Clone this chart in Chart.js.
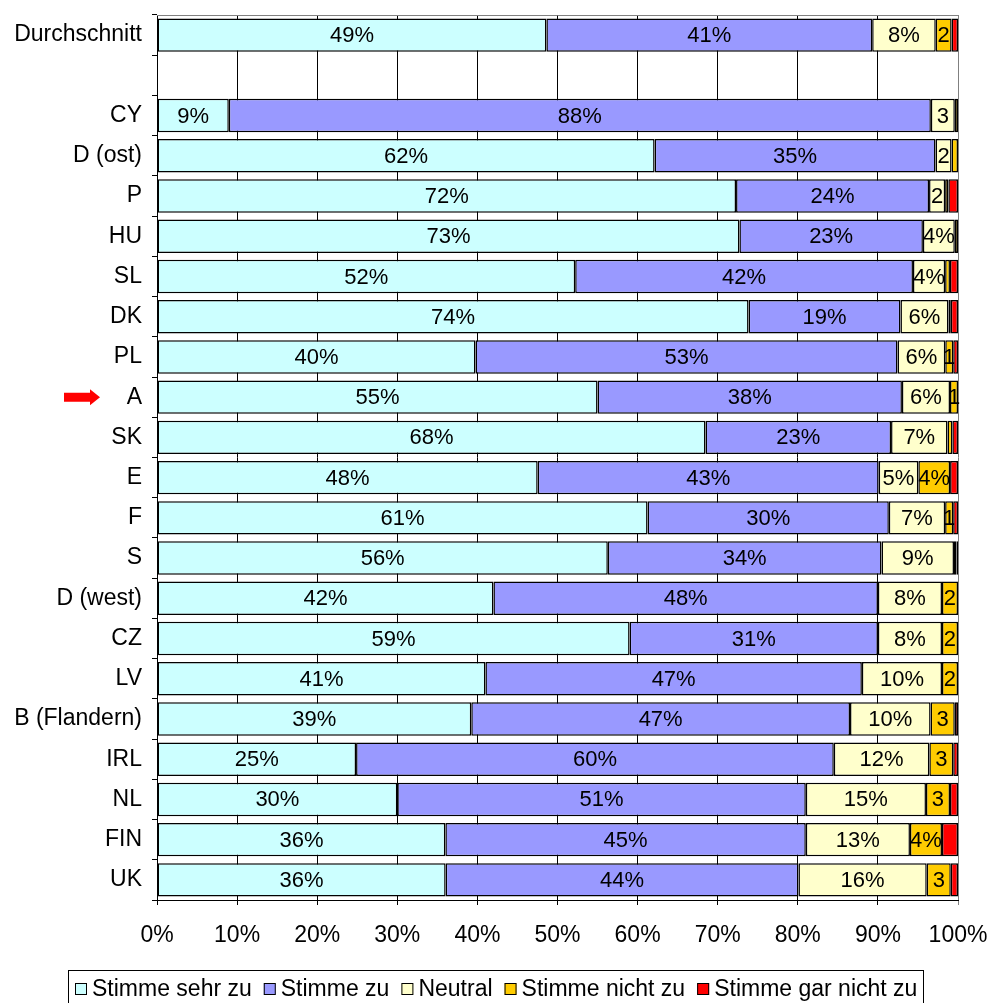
<!DOCTYPE html>
<html>
<head>
<meta charset="utf-8">
<script src="https://cdn.jsdelivr.net/npm/chart.js@4/dist/chart.umd.min.js"></script>
<style>
html, body { margin: 0; padding: 0; background: #fff; }
</style>
</head>
<body>
<canvas id="myChart" width="988" height="1003"></canvas>
<script>
var FONT = '"Liberation Sans", Arial, sans-serif';

// rows, top to bottom (empty row separates the average)
var countries = ["Durchschnitt", "", "CY", "D (ost)", "P", "HU", "SL", "DK", "PL", "A", "SK", "E", "F", "S",
                 "D (west)", "CZ", "LV", "B (Flandern)", "IRL", "NL", "FIN", "UK"];

var sehrZu   = [49, null, 9, 62, 72, 73, 52, 74, 40, 55, 68, 48, 61, 56, 42, 59, 41, 39, 25, 30, 36, 36];
var zu       = [41, null, 88, 35, 24, 23, 42, 19, 53, 38, 23, 43, 30, 34, 48, 31, 47, 47, 60, 51, 45, 44];
var neutral  = [8, null, 3, 2, 2, 4, 4, 6, 6, 6, 7, 5, 7, 9, 8, 8, 10, 10, 12, 15, 13, 16];
var nichtZu  = [2, null, 0.4, 0.8, 0.4, 0.4, 0.6, 0.3, 1, 1, 0.6, 4, 1, 0.3, 2, 2, 2, 3, 3, 3, 4, 3];
var garNicht = [0.8, null, 0, 0, 1.2, 0, 1, 0.9, 0.6, 0, 0.7, 1, 0.6, 0.2, 0, 0, 0, 0.4, 0.6, 1, 2, 0.9];

var xTicks = [0, 10, 20, 30, 40, 50, 60, 70, 80, 90, 100];

var seriesNames = ["Stimme sehr zu", "Stimme zu", "Neutral", "Stimme nicht zu", "Stimme gar nicht zu"];
var seriesColors = ["#CCFFFF", "#9999FF", "#FFFFCC", "#FFCC00", "#FF0000"];
var series = [sehrZu, zu, neutral, nichtZu, garNicht];

// each row is stacked to 100%
var totals = countries.map(function(c, i) {
  var s = 0;
  series.forEach(function(arr) { s += arr[i] || 0; });
  return s;
});

var datasets = series.map(function(arr, k) {
  return {
    label: seriesNames[k],
    values: arr,
    data: arr.map(function(v, i) { return v == null ? null : v / totals[i] * 100; }),
    backgroundColor: seriesColors[k],
    borderColor: "#000",
    borderWidth: 1.5,
    borderSkipped: false,
    barPercentage: 0.83,
    categoryPercentage: 1
  };
});

// numbers inside the segments ("2" instead of "2%" when it is narrow)
var valueLabels = {
  id: "valueLabels",
  afterDatasetsDraw: function(chart) {
    var ctx = chart.ctx;
    ctx.save();
    ctx.font = "22px " + FONT;
    ctx.fillStyle = "#000";
    ctx.textAlign = "center";
    ctx.textBaseline = "middle";
    chart.data.datasets.forEach(function(ds, di) {
      if (di > 3) return;
      chart.getDatasetMeta(di).data.forEach(function(bar, i) {
        var v = ds.values[i];
        if (v == null || v < 1) return;
        var txt = v >= 4 ? v + "%" : String(v);
        ctx.fillText(txt, (bar.x + bar.base) / 2, bar.y + 1);
      });
    });
    ctx.restore();
  }
};

// grey frame line on top of the plot
var plotFrame = {
  id: "plotFrame",
  beforeDatasetsDraw: function(chart) {
    var a = chart.chartArea, ctx = chart.ctx;
    ctx.save();
    ctx.strokeStyle = "#808080";
    ctx.lineWidth = 1;
    ctx.beginPath();
    ctx.moveTo(a.left, a.top + 0.5);
    ctx.lineTo(a.right, a.top + 0.5);
    ctx.stroke();
    ctx.restore();
  }
};

// red arrow pointing at Austria
var arrowMark = {
  id: "arrowMark",
  afterDraw: function(chart) {
    var ctx = chart.ctx;
    var y = chart.scales.y.getPixelForValue(countries.indexOf("A"));
    ctx.save();
    ctx.fillStyle = "#FF0000";
    ctx.beginPath();
    ctx.moveTo(64, y - 4.5);
    ctx.lineTo(90, y - 4.5);
    ctx.lineTo(90, y - 8);
    ctx.lineTo(100, y);
    ctx.lineTo(90, y + 8);
    ctx.lineTo(90, y + 4.5);
    ctx.lineTo(64, y + 4.5);
    ctx.closePath();
    ctx.fill();
    ctx.restore();
  }
};

// legend in a framed box under the axis
var boxLegend = {
  id: "boxLegend",
  afterDraw: function(chart) {
    var ctx = chart.ctx;
    var box = 12, gap = 5, space = 12, cy = 989;
    ctx.save();
    ctx.font = "23px " + FONT;
    ctx.textBaseline = "middle";
    var items = chart.data.datasets.map(function(ds) {
      return { text: ds.label, color: ds.backgroundColor, w: ctx.measureText(ds.label).width };
    });
    var total = 0;
    items.forEach(function(it, i) { total += box + gap + it.w + (i < items.length - 1 ? space : 0); });
    var x = Math.round(496 - total / 2);
    ctx.strokeStyle = "#000";
    ctx.lineWidth = 1;
    ctx.strokeRect(x - 6.5, 970.5, Math.round(total + 13), 60);
    items.forEach(function(it) {
      ctx.fillStyle = it.color;
      ctx.fillRect(x, cy - box / 2, box, box);
      ctx.strokeRect(x + 0.5, cy - box / 2 + 0.5, box - 1, box - 1);
      ctx.fillStyle = "#000";
      ctx.fillText(it.text, x + box + gap, cy + 1);
      x += box + gap + it.w + space;
    });
    ctx.restore();
  }
};

new Chart("myChart", {
  type: "bar",
  data: {
    labels: countries,
    datasets: datasets
  },
  plugins: [plotFrame, valueLabels, arrowMark, boxLegend],
  options: {
    indexAxis: "y",
    responsive: false,
    animation: false,
    layout: { padding: { left: 0, top: 15, right: 30, bottom: 0 } },
    plugins: {
      legend: { display: false },
      tooltip: { enabled: false }
    },
    scales: {
      x: {
        stacked: true,
        min: 0,
        max: 100,
        afterBuildTicks: function(scale) {
          scale.ticks = xTicks.map(function(v) { return { value: v }; });
        },
        afterFit: function(scale) {
          scale.height = 103;
          scale.paddingLeft = 0;
          scale.paddingRight = 0;
        },
        ticks: {
          font: { size: 23, family: FONT },
          color: "#000",
          padding: 17,
          maxRotation: 0,
          autoSkip: false,
          callback: function(v) { return v + "%"; }
        },
        grid: {
          color: function(c) { return c.tick && c.tick.value === 100 ? "#808080" : "#000"; },
          lineWidth: 1,
          tickLength: 5
        },
        border: { color: "#000", width: 1 }
      },
      y: {
        stacked: true,
        afterFit: function(scale) {
          scale.width = 157;
          scale.paddingTop = 0;
          scale.paddingBottom = 0;
        },
        ticks: {
          font: { size: 23, family: FONT },
          color: "#000",
          padding: 10,
          autoSkip: false
        },
        grid: {
          drawOnChartArea: false,
          offset: true,
          color: "#000",
          tickLength: 5
        },
        border: { color: "#000", width: 1 }
      }
    }
  }
});
</script>
</body>
</html>
